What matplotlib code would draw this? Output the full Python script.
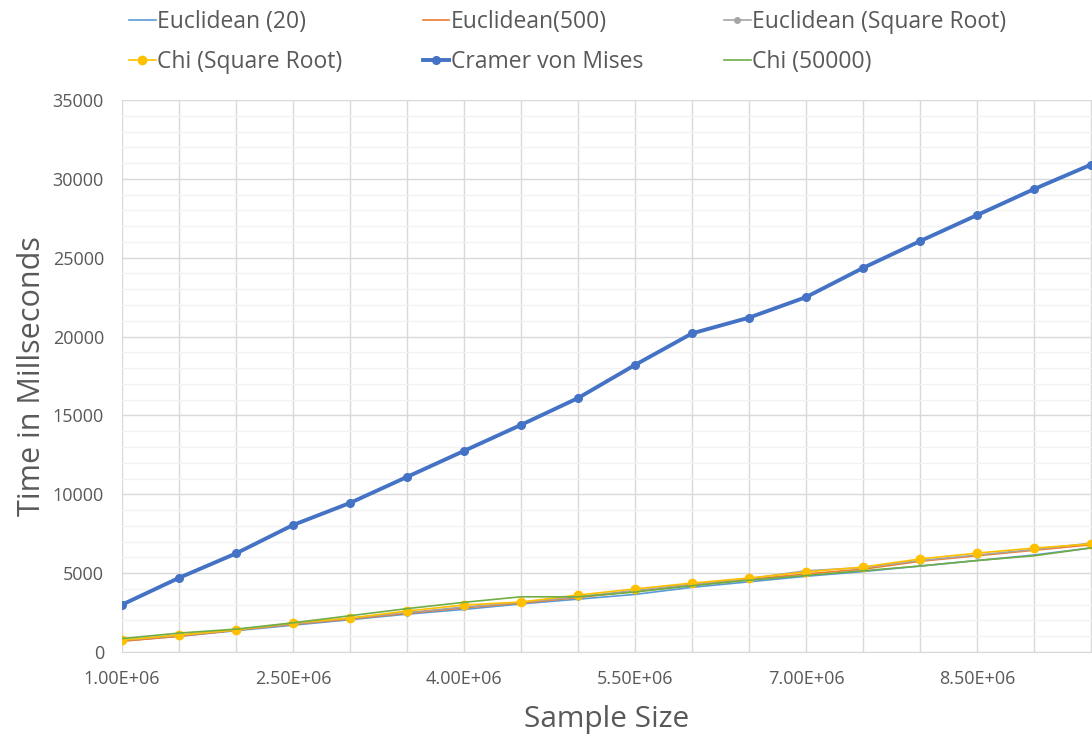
import matplotlib
matplotlib.use('Agg')
import matplotlib.pyplot as plt
import numpy as np
from matplotlib.ticker import MultipleLocator, FixedLocator, FuncFormatter

# sample sizes 1.0E+06 .. 9.5E+06 in steps of 5E+05
sample_sizes = [1.0e6, 1.5e6, 2.0e6, 2.5e6, 3.0e6, 3.5e6, 4.0e6, 4.5e6, 5.0e6,
                5.5e6, 6.0e6, 6.5e6, 7.0e6, 7.5e6, 8.0e6, 8.5e6, 9.0e6, 9.5e6]

euclid_20 = [700, 1000, 1350, 1700, 2050, 2400, 2700, 3050, 3350,
             3650, 4100, 4450, 4800, 5100, 5450, 5800, 6150, 6600]
euclid_500 = [680, 1000, 1380, 1750, 2100, 2450, 2800, 3100, 3450,
              3850, 4250, 4600, 4950, 5250, 5750, 6100, 6450, 6800]
euclid_sqrt = [750, 1050, 1400, 1780, 2150, 2500, 2850, 3150, 3500,
               3900, 4300, 4650, 5150, 5350, 5800, 6150, 6500, 6900]
chi_sqrt = [760, 1080, 1400, 1840, 2150, 2600, 2980, 3170, 3610,
            4000, 4370, 4690, 5070, 5390, 5900, 6270, 6590, 6850]
cramer = [3000, 4700, 6250, 8050, 9450, 11100, 12750, 14400, 16100,
          18200, 20200, 21200, 22500, 24350, 26050, 27700, 29350, 30900]
chi_50000 = [850, 1200, 1450, 1850, 2300, 2750, 3150, 3500, 3500,
             3800, 4200, 4550, 4850, 5150, 5450, 5800, 6100, 6600]

label_ticks = [1.0e6, 2.5e6, 4.0e6, 5.5e6, 7.0e6, 8.5e6]

text_color = '#595959'
plt.rcParams['font.family'] = ['Open Sans', 'DejaVu Sans']

fig = plt.figure(figsize=(10.92, 7.37), dpi=100)
ax = fig.add_axes([122 / 1092, 85 / 737, 970 / 1092, 552 / 737])

x = np.array(sample_sizes)
l1, = ax.plot(x, euclid_20, color='#5B9BD5', lw=1.2, label='Euclidean (20)')
l2, = ax.plot(x, euclid_500, color='#ED7D31', lw=1.2, label='Euclidean(500)')
l3, = ax.plot(x, euclid_sqrt, color='#A5A5A5', lw=1.2, marker='o', ms=4,
              label='Euclidean (Square Root)')
l4, = ax.plot(x, chi_sqrt, color='#FFC000', lw=1.2, marker='o', ms=6,
              label='Chi (Square Root)')
l5, = ax.plot(x, cramer, color='#4472C4', lw=2.8, marker='o', ms=5.5,
              label='Cramer von Mises')
l6, = ax.plot(x, chi_50000, color='#70AD47', lw=1.2, label='Chi (50000)')

ax.set_xlim(1.0e6, 1.0e6 + 970 / 114 * 1e6)
ax.set_ylim(0, 35000)

# gridlines: vertical at every sample size, horizontal major/minor
ax.xaxis.set_major_locator(FixedLocator(label_ticks))
ax.xaxis.set_minor_locator(MultipleLocator(5e5))
ax.yaxis.set_major_locator(MultipleLocator(5000))
ax.yaxis.set_minor_locator(MultipleLocator(1000))
ax.grid(which='minor', axis='x', color='#D9D9D9', lw=1.0)
ax.grid(which='major', axis='x', color='#D9D9D9', lw=1.0)
ax.grid(which='major', axis='y', color='#D9D9D9', lw=1.0)
ax.grid(which='minor', axis='y', color='#F2F2F2', lw=1.0)
ax.set_axisbelow(True)

ax.xaxis.set_major_formatter(FuncFormatter(lambda v, p: '%.2E' % v))
ax.tick_params(which='both', length=0)
ax.tick_params(axis='x', labelsize=13, colors=text_color, pad=13)
ax.tick_params(axis='y', labelsize=13, colors=text_color, pad=13)

for s in ['top', 'right', 'left']:
    ax.spines[s].set_visible(False)
ax.spines['bottom'].set_color('#D9D9D9')

ax.set_xlabel('Sample Size', fontsize=21.5, color=text_color, labelpad=12)
ax.set_ylabel('Time in Millseconds', fontsize=22, color=text_color, labelpad=4)

handles = [l1, l4, l2, l5, l3, l6]
fig.legend(handles=handles, labels=[h.get_label() for h in handles],
           ncol=3, loc='lower left', mode='expand',
           bbox_to_anchor=(120 / 1092, 654 / 737, 895 / 1092, 80 / 737),
           frameon=False, fontsize=16.5, labelcolor=text_color,
           handlelength=1.15, handletextpad=0.05, labelspacing=0.68,
           borderaxespad=0.0)

fig.savefig('out.png', dpi=100)
